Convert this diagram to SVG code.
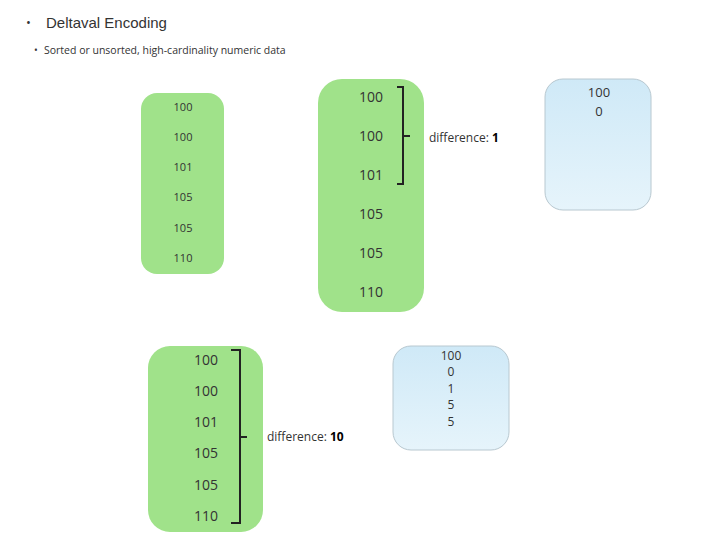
<svg xmlns="http://www.w3.org/2000/svg" width="720" height="540" viewBox="0 0 720 540">
<style>
.g{fill:#a0e28a}
.b{fill:url(#bl);stroke:#b8c8d0;stroke-width:1}
text{font-family:"Open Sans","DejaVu Sans",sans-serif;fill:#333}
.v{text-anchor:middle}
.br{fill:none;stroke:#222;stroke-width:2}
</style>
<defs><linearGradient id="bl" x1="0" y1="0" x2="0" y2="1"><stop offset="0" stop-color="#cfe9f7"/><stop offset="1" stop-color="#e6f4fb"/></linearGradient></defs>
<rect width="720" height="540" fill="#fff"/>
<g id="title"><text x="26" y="27" font-size="13" fill="#555">•</text><text x="46" y="28" font-size="15" fill="#000" style="font-family:'Liberation Sans',sans-serif">Deltaval Encoding</text>
<text x="34" y="54" font-size="10" fill="#444">•</text><text x="44" y="54" font-size="10.5" fill="#444">Sorted or unsorted, high-cardinality numeric data</text></g>
<g id="boxA"><rect class="g" x="141" y="93" width="83" height="181" rx="16"/>
<g font-size="11"><text class="v" x="183" y="111">100</text><text class="v" x="183" y="141">100</text><text class="v" x="183" y="171">101</text><text class="v" x="183" y="201">105</text><text class="v" x="183" y="232">105</text><text class="v" x="183" y="262">110</text></g></g>
<g id="boxB"><rect class="g" x="318" y="79" width="106" height="233" rx="24"/>
<g font-size="14"><text class="v" x="371" y="102">100</text><text class="v" x="371" y="141">100</text><text class="v" x="371" y="180">101</text><text class="v" x="371" y="219">105</text><text class="v" x="371" y="258">105</text><text class="v" x="371" y="297">110</text></g></g>
<g id="boxC"><rect class="b" x="545" y="79" width="106" height="131" rx="18"/>
<g font-size="13"><text class="v" x="599" y="97">100</text><text class="v" x="599" y="116">0</text></g></g>
<g id="boxD"><rect class="g" x="148" y="346" width="115" height="186" rx="22"/>
<g font-size="14"><text class="v" x="206" y="365">100</text><text class="v" x="206" y="396">100</text><text class="v" x="206" y="427">101</text><text class="v" x="206" y="458">105</text><text class="v" x="206" y="490">105</text><text class="v" x="206" y="521">110</text></g></g>
<g id="boxE"><rect class="b" x="393" y="346" width="116" height="104" rx="18"/>
<g font-size="12"><text class="v" x="451" y="360">100</text><text class="v" x="451" y="376">0</text><text class="v" x="451" y="393">1</text><text class="v" x="451" y="409">5</text><text class="v" x="451" y="426">5</text></g></g>
<g id="connectors">
<path class="br" d="M397 87H403V184H397M403 136H410"/>
<path class="br" d="M231 350H240V523H231M240 437H247"/>
</g>
<g id="labels"><text x="429" y="142" font-size="12">difference: <tspan font-weight="bold" fill="#000">1</tspan></text>
<text x="267" y="441" font-size="12">difference: <tspan font-weight="bold" fill="#000">10</tspan></text></g>
</svg>
